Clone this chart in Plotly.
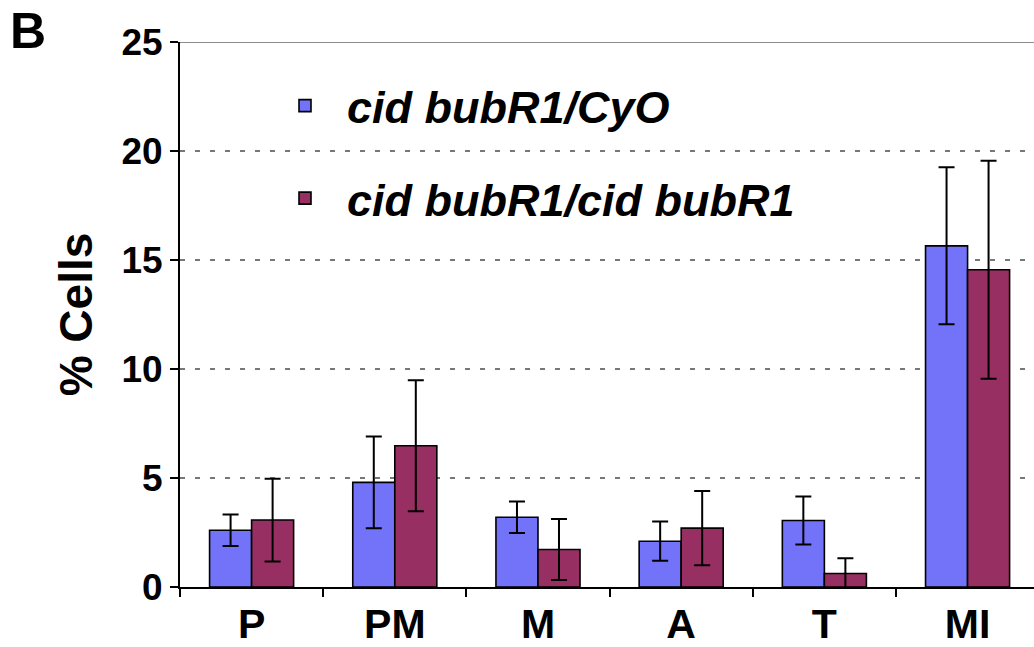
import plotly.graph_objects as go

categories = ["P", "PM", "M", "A", "T", "MI"]
series_names = ["cid bubR1/CyO", "cid bubR1/cid bubR1"]
cyo_values = [2.6, 4.8, 3.2, 2.1, 3.05, 15.65]
cyo_errors = [0.72, 2.1, 0.72, 0.9, 1.1, 3.6]
cid_values = [3.07, 6.48, 1.72, 2.7, 0.62, 14.55]
cid_errors = [1.9, 3.0, 1.4, 1.7, 0.7, 5.0]
y_ticks = [0, 5, 10, 15, 20, 25]

BLUE = "#7373F9"
RED = "#982F62"

fig = go.Figure()
for name, vals, errs, col, grp in [
    (series_names[0], cyo_values, cyo_errors, BLUE, "g1"),
    (series_names[1], cid_values, cid_errors, RED, "g2"),
]:
    fig.add_trace(go.Bar(
        x=categories, y=vals, name=name, legendgroup=grp,
        marker=dict(color=col, line=dict(color="black", width=1.6)),
        error_y=dict(type="data", array=errs, visible=True,
                     color="black", thickness=2, width=8),
    ))

fig.add_shape(type="line", xref="paper", yref="y", x0=0, x1=1, y0=25, y1=25,
              line=dict(color="#666666", width=1.5))

fig.add_annotation(text="B", xref="paper", yref="paper",
                   x=(8 - 180) / 854, y=1 + (42 - 31) / 547,
                   xanchor="left", yanchor="middle", showarrow=False,
                   font=dict(family="Liberation Sans, Arial", size=50, color="black", weight="bold"))

fig.update_layout(
    width=1034, height=647,
    margin=dict(l=180, r=0, t=42, b=58),
    paper_bgcolor="white", plot_bgcolor="white",
    barmode="group", bargap=0.413, bargroupgap=0,
    showlegend=True,
    legend=dict(
        x=(263 - 180) / 854, y=1 - (70 - 42) / 547, xanchor="left", yanchor="top",
        bgcolor="rgba(0,0,0,0)", itemwidth=74, tracegroupgap=31,
        traceorder="grouped",
        font=dict(family="Liberation Sans, Arial", size=45, color="black",
                  weight="bold", style="italic"),
    ),
    xaxis=dict(
        range=[-0.5, 5.464], showline=True, linecolor="black", linewidth=2,
        ticks="outside", tickson="boundaries", ticklen=8, tickwidth=2, tickcolor="black",
        showgrid=False,
        tickfont=dict(family="Liberation Sans, Arial", size=41, color="black", weight="bold"),
    ),
    yaxis=dict(
        range=[0, 25], tickvals=y_ticks, showline=True, linecolor="black", linewidth=2,
        ticks="outside", ticklen=8, tickwidth=2, tickcolor="black",
        showgrid=True, gridcolor="#777777", gridwidth=2, griddash="5px,10px",
        zeroline=False,
        tickfont=dict(family="Liberation Sans, Arial", size=37, color="black", weight="bold"),
        title=dict(text="% Cells", standoff=14,
                   font=dict(family="Liberation Sans, Arial", size=46, color="black", weight="bold")),
    ),
)

fig.write_html("out.html")
